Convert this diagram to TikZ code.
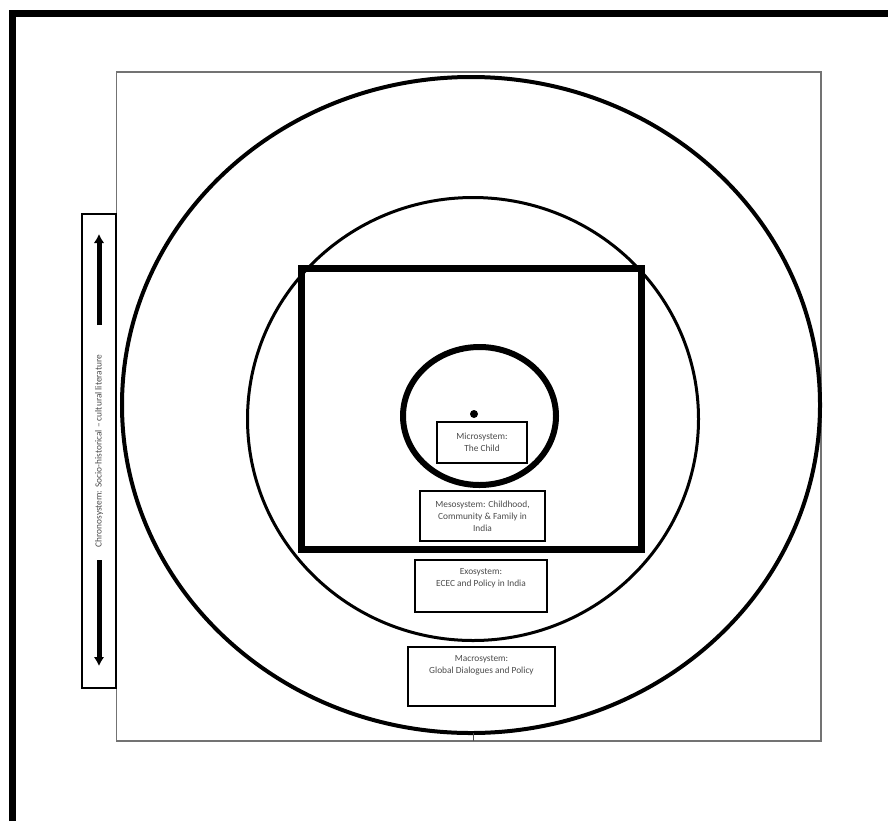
\documentclass[tikz,border=0pt]{standalone}
\usepackage{fontspec}
\setmainfont{Carlito}
\usetikzlibrary{arrows.meta,positioning}

\begin{document}
\begin{tikzpicture}[x=0.3mm,y=-0.3mm,font=\fontsize{8}{10.2}\selectfont,
  frame/.style={draw=black,line width=2.1mm},
  sheet/.style={draw=black!55,line width=0.45mm},
  ring/.style={draw=black},
  layer/.style={draw=black,line width=0.5mm,fill=white,inner sep=0pt},
  caption/.style={text=black!70,align=center,inner sep=0pt},
  timeline/.style={-{Latex[length=2.7mm,width=3.2mm]},line width=1.5mm}]
\useasboundingbox (0,0) rectangle (888,821);

% Page frame and the drawing sheet.
\draw[frame] (12,821) -- (12,13.5) -- (888,13.5);
\draw[sheet] (116.5,72) rectangle (821,741);

% Nested systems, outermost first.
\draw[ring,line width=1.2mm] (471,405) ellipse [x radius=104.7mm,y radius=98.4mm];
\draw[ring,line width=0.9mm] (473,419) ellipse [x radius=67.65mm,y radius=66.45mm];
\draw[ring,line width=2.1mm] (301.5,268.5) rectangle (641.5,549.5);
\draw[ring,line width=1.8mm] (479.5,416) ellipse [x radius=22.95mm,y radius=20.7mm];
\fill (474,414) circle [radius=1.2mm];
\draw[black!70,line width=0.3mm] (473,733) -- (473,741);

% Labels for each layer.
\node[layer,minimum width=27mm,minimum height=12.3mm] (micro) at (482,442.5) {};
\node[caption] (microtext) at (micro.center) {Microsystem:\\The Child};
\node[layer,minimum width=37.5mm,minimum height=15mm] (meso) at (482.5,516) {};
\node[caption] (mesotext) at (meso.center) {Mesosystem: Childhood,\\Community \& Family in\\India};
\node[layer,minimum width=39.6mm,minimum height=15.6mm] (exo) at (481,586) {};
\node[caption,anchor=north] (exotext) at ([yshift=-2.6mm]exo.north) {Exosystem:\\ECEC and Policy in India};
\node[layer,minimum width=44.1mm,minimum height=17.7mm] (macro) at (481.5,676.5) {};
\node[caption,anchor=north] (macrotext) at ([yshift=-2.7mm]macro.north) {Macrosystem:\\Global Dialogues and Policy};

% Time runs along the side.
\node[layer,line width=0.4mm,minimum width=10.2mm,minimum height=142.2mm] (chrono) at (99,451) {};
\node[caption,rotate=90] (chronotext) at (chrono.center) {Chronosystem: Socio-historical -- cultural literature};
\coordinate (upfrom) at (99,325);
\coordinate (upto) at (99,234);
\coordinate (downfrom) at (99,560);
\coordinate (downto) at (99,666);
\draw[timeline] (upfrom) -- (upto);
\draw[timeline] (downfrom) -- (downto);
\end{tikzpicture}
\end{document}
